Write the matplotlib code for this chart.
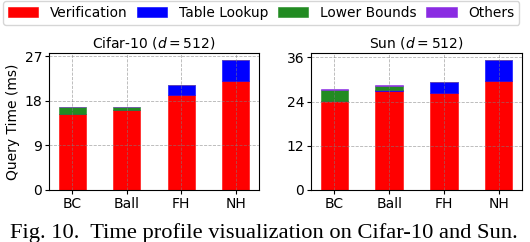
import matplotlib.pyplot as plt
import numpy as np

methods = ["BC", "Ball", "FH", "NH"]
parts = ["Verification", "Table Lookup", "Lower Bounds", "Others"]
colors = ["red", "blue", "forestgreen", "blueviolet"]

# Cifar-10 (d=512), ms
cifar_verif = [15.3, 16.2, 19.1, 22.0]
cifar_table = [0.03, 0.03, 2.1, 4.3]
cifar_lower = [1.35, 0.55, 0.0, 0.0]
cifar_other = [0.04, 0.04, 0.02, 0.02]

# Sun (d=512), ms
sun_verif = [24.2, 26.9, 26.3, 29.5]
sun_table = [0.05, 0.15, 3.0, 5.9]
sun_lower = [2.9, 1.2, 0.0, 0.0]
sun_other = [0.15, 0.3, 0.03, 0.03]

yticks_cifar = [0, 9, 18, 27]
yticks_sun = [0, 12, 24, 36]

fig = plt.figure(figsize=(5.3, 2.42), dpi=100)
ax1 = fig.add_axes([0.0925, 0.215, 0.396, 0.566])
ax2 = fig.add_axes([0.587, 0.215, 0.398, 0.566])


def draw(ax, series, title, yticks):
    x = np.arange(len(methods))
    bottom = np.zeros(len(methods))
    handles = []
    for vals, name, c in zip(series, parts, colors):
        h = ax.bar(x, vals, 0.5, bottom=bottom, color=c, label=name,
                   edgecolor=c, linewidth=0.4, zorder=2)
        handles.append(h)
        bottom += np.array(vals)
    ax.set_xticks(x)
    ax.set_xticklabels(methods)
    ax.set_yticks(yticks)
    ax.set_title(title, fontsize=10, pad=4)
    ax.grid(True, linestyle="--", color="gray", alpha=0.6, linewidth=0.6, zorder=3)
    ax.set_axisbelow(False)
    ax.tick_params(labelsize=10, length=3, pad=2)
    return handles


h = draw(ax1, [cifar_verif, cifar_table, cifar_lower, cifar_other],
         r"Cifar-10 ($d = 512$)", yticks_cifar)
draw(ax2, [sun_verif, sun_table, sun_lower, sun_other],
     r"Sun ($d = 512$)", yticks_sun)
ax1.set_ylabel("Query Time (ms)", fontsize=10, labelpad=3)

fig.legend(h, parts, loc="upper center", bbox_to_anchor=(0.493, 1.0), ncol=4,
           fontsize=9.9, handlelength=2.2, handleheight=0.75, handletextpad=0.85,
           columnspacing=0.7, borderpad=0.35, borderaxespad=0.1, frameon=True)

fig.text(0.018, 0.035, "Fig. 10.  Time profile visualization on Cifar-10 and Sun.",
         family="Liberation Serif", fontsize=16.2, ha="left", va="center")

fig.savefig("out.png", dpi=100)
